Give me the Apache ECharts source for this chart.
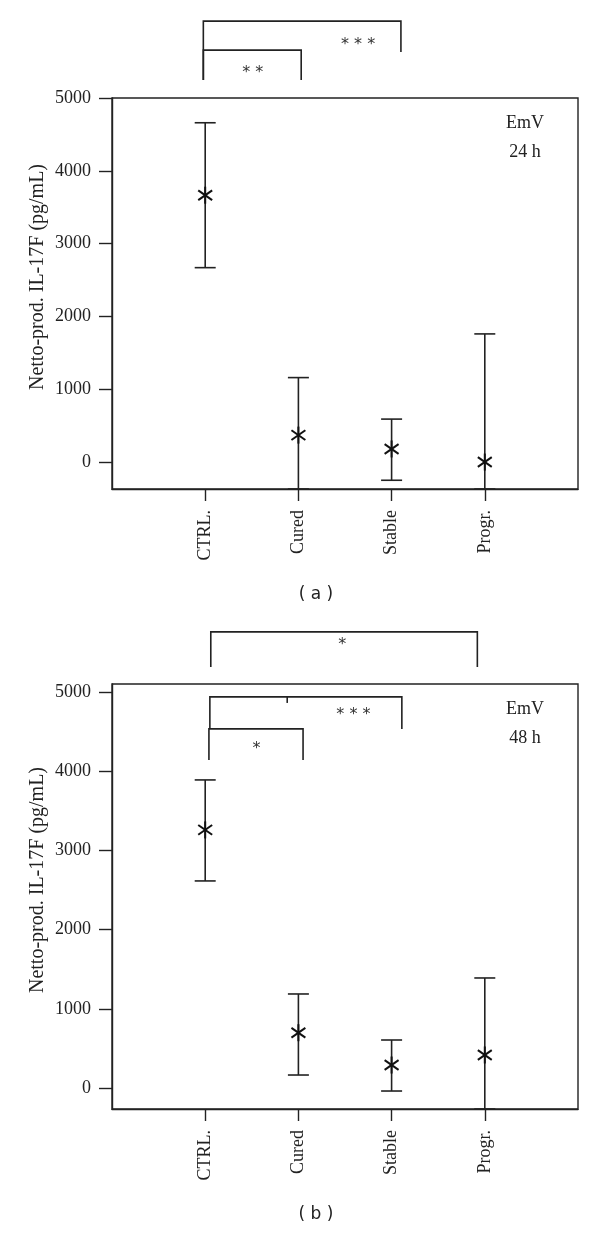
<!DOCTYPE html>
<html>
<head>
<meta charset="utf-8">
<style>html,body{margin:0;padding:0;background:#fff;}#c{width:600px;height:1233px;}</style>
<script src="https://cdn.jsdelivr.net/npm/echarts@6/dist/echarts.min.js"></script>
</head>
<body>
<div id="c"></div>
<script>
// ---------- data ----------
const categories = ['CTRL.', 'Cured', 'Stable', 'Progr.'];
const catPos = [1, 2, 3, 4];
const yTicksA = [0, 1000, 2000, 3000, 4000, 5000];
const yTicksB = [0, 1000, 2000, 3000, 4000, 5000];

// panel (a) EmV 24 h
const meanA = [3665, 370, 180, 0];
const highA = [4660, 1160, 590, 1760];
const lowA  = [2670, -420, -250, -1760];

// panel (b) EmV 48 h
const meanB = [3258, 698, 290, 417];
const highB = [3889, 1187, 606, 1389];
const lowB  = [2614, 164, -38, -555];

// significance brackets (x in category units, y in pg/mL)
const bracketsA = [
  {x1: 0.98, x2: 3.1, yTop: 6056, yL: 5247, yR: 5631, label: '* * *', lx: 2.64, ly: 5727},
  {x1: 0.98, x2: 2.03, yTop: 5658, yL: 5247, yR: 5247, label: '* *', lx: 1.51, ly: 5343}
];
const bracketsB = [
  {x1: 1.06, x2: 3.92, yTop: 5758, yL: 5316, yR: 5316, label: '*', lx: 2.47, ly: 5593},
  {x1: 1.05, x2: 3.11, yTop: 4937, yL: 4533, yR: 4533, label: '* * *', lx: 2.59, ly: 4710, tx: 1.88, ty: 4861},
  {x1: 1.04, x2: 2.05, yTop: 4533, yL: 4141, yR: 4141, label: '*', lx: 1.55, ly: 4280}
];

// ---------- chart ----------
const INK = '#222';
const SERIF = '"Liberation Serif", "DejaVu Serif", serif';
const chart = echarts.init(document.getElementById('c'), null, {renderer: 'canvas'});

function makeXAxis(gridIndex) {
  return {
    type: 'value', gridIndex, min: 0, max: 5,
    axisLine: {show: true, onZero: false, lineStyle: {color: INK, width: 1.4}},
    axisTick: {show: true, inside: false, length: 12, lineStyle: {color: INK, width: 1.4}, customValues: catPos},
    axisLabel: {
      customValues: catPos, rotate: 90, margin: 21, color: INK,
      fontFamily: SERIF, fontSize: 18,
      formatter: v => categories[Math.round(v) - 1] || ''
    },
    splitLine: {show: false}
  };
}
function makeYAxis(gridIndex, min, max, ticks) {
  return {
    type: 'value', gridIndex, min, max,
    axisLine: {show: true, onZero: false, lineStyle: {color: INK, width: 1.4}},
    axisTick: {show: true, inside: false, length: 13, lineStyle: {color: INK, width: 1.4}, customValues: ticks},
    axisLabel: {customValues: ticks, margin: 21, color: INK, fontFamily: SERIF, fontSize: 18, formatter: v => String(v)},
    splitLine: {show: false}
  };
}

function errRender(params, api) {
  const x = api.value(0), m = api.value(1), lo = api.value(2), hi = api.value(3);
  const cs = params.coordSys;
  const top = cs.y, bot = cs.y + cs.height;
  const pM = api.coord([x, m]);
  const yHi = Math.max(top, api.coord([x, hi])[1]);
  const yLo = Math.min(bot, api.coord([x, lo])[1]);
  const cx = pM[0], cy = pM[1];
  const w = 10.5, r = 8.5;
  const st = {stroke: INK, lineWidth: 1.6};
  const ang = Math.PI * 35 / 180;
  const dx = r * Math.cos(ang), dy = r * Math.sin(ang);
  const mk = {stroke: '#111', lineWidth: 2};
  return {
    type: 'group',
    children: [
      {type: 'line', shape: {x1: cx, y1: yHi, x2: cx, y2: yLo}, style: st},
      {type: 'line', shape: {x1: cx - w, y1: yHi, x2: cx + w, y2: yHi}, style: st},
      {type: 'line', shape: {x1: cx - w, y1: yLo, x2: cx + w, y2: yLo}, style: st},
      {type: 'line', shape: {x1: cx, y1: cy - r, x2: cx, y2: cy + r}, style: mk},
      {type: 'line', shape: {x1: cx - dx, y1: cy - dy, x2: cx + dx, y2: cy + dy}, style: mk},
      {type: 'line', shape: {x1: cx - dx, y1: cy + dy, x2: cx + dx, y2: cy - dy}, style: mk}
    ]
  };
}

function bracketRender(list) {
  return function (params, api) {
    const b = list[params.dataIndex];
    const pTL = api.coord([b.x1, b.yTop]);
    const pTR = api.coord([b.x2, b.yTop]);
    const pL = api.coord([b.x1, b.yL]);
    const pR = api.coord([b.x2, b.yR]);
    const pLab = api.coord([b.lx, b.ly]);
    const st = {stroke: INK, lineWidth: 1.6};
    const children = [
      {type: 'polyline', shape: {points: [pL, pTL, pTR, pR]}, style: Object.assign({fill: null}, st)},
      {type: 'text', x: pLab[0], y: pLab[1], style: {text: b.label, fill: '#333', font: '16px "DejaVu Sans", sans-serif', align: 'center', verticalAlign: 'middle'}}
    ];
    if (b.tx !== undefined) {
      const t1 = api.coord([b.tx, b.yTop]);
      const t2 = api.coord([b.tx, b.ty]);
      children.push({type: 'line', shape: {x1: t1[0], y1: t1[1], x2: t2[0], y2: t2[1]}, style: st});
    }
    return {type: 'group', children};
  };
}

const errDataA = catPos.map((x, i) => [x, meanA[i], lowA[i], highA[i]]);
const errDataB = catPos.map((x, i) => [x, meanB[i], lowB[i], highB[i]]);

const gridStyle = {show: true, borderColor: INK, borderWidth: 1.4, backgroundColor: 'transparent', containLabel: false};

chart.setOption({
  animation: false,
  backgroundColor: '#fff',
  grid: [
    Object.assign({left: 112, top: 98, width: 466, height: 391}, gridStyle),
    Object.assign({left: 112, top: 684, width: 466, height: 425}, gridStyle)
  ],
  xAxis: [makeXAxis(0), makeXAxis(1)],
  yAxis: [makeYAxis(0, -370, 5000, yTicksA), makeYAxis(1, -265, 5100, yTicksB)],
  series: [
    {type: 'custom', xAxisIndex: 0, yAxisIndex: 0, renderItem: errRender, data: errDataA, clip: false, encode: {x: 0, y: [1, 2, 3]}},
    {type: 'custom', xAxisIndex: 1, yAxisIndex: 1, renderItem: errRender, data: errDataB, clip: false, encode: {x: 0, y: [1, 2, 3]}},
    {type: 'custom', xAxisIndex: 0, yAxisIndex: 0, renderItem: bracketRender(bracketsA), data: bracketsA.map(b => [b.x1, b.yTop]), clip: false, silent: true},
    {type: 'custom', xAxisIndex: 1, yAxisIndex: 1, renderItem: bracketRender(bracketsB), data: bracketsB.map(b => [b.x1, b.yTop]), clip: false, silent: true}
  ],
  graphic: [
    {type: 'text', x: 525, y: 123, style: {text: 'EmV', font: '18px ' + SERIF, fill: INK, align: 'center', verticalAlign: 'middle'}},
    {type: 'text', x: 525, y: 152, style: {text: '24 h', font: '18px ' + SERIF, fill: INK, align: 'center', verticalAlign: 'middle'}},
    {type: 'text', x: 525, y: 709, style: {text: 'EmV', font: '18px ' + SERIF, fill: INK, align: 'center', verticalAlign: 'middle'}},
    {type: 'text', x: 525, y: 738, style: {text: '48 h', font: '18px ' + SERIF, fill: INK, align: 'center', verticalAlign: 'middle'}},
    {type: 'text', x: 38, y: 277, rotation: Math.PI / 2, style: {text: 'Netto-prod. IL-17F (pg/mL)', font: '20px ' + SERIF, fill: INK, align: 'center', verticalAlign: 'middle'}},
    {type: 'text', x: 38, y: 880, rotation: Math.PI / 2, style: {text: 'Netto-prod. IL-17F (pg/mL)', font: '20px ' + SERIF, fill: INK, align: 'center', verticalAlign: 'middle'}},
    {type: 'text', x: 316, y: 595, style: {text: '( a )', font: '17px "DejaVu Sans", sans-serif', fill: INK, align: 'center', verticalAlign: 'middle'}},
    {type: 'text', x: 316, y: 1215, style: {text: '( b )', font: '17px "DejaVu Sans", sans-serif', fill: INK, align: 'center', verticalAlign: 'middle'}}
  ]
});
</script>
</body>
</html>
